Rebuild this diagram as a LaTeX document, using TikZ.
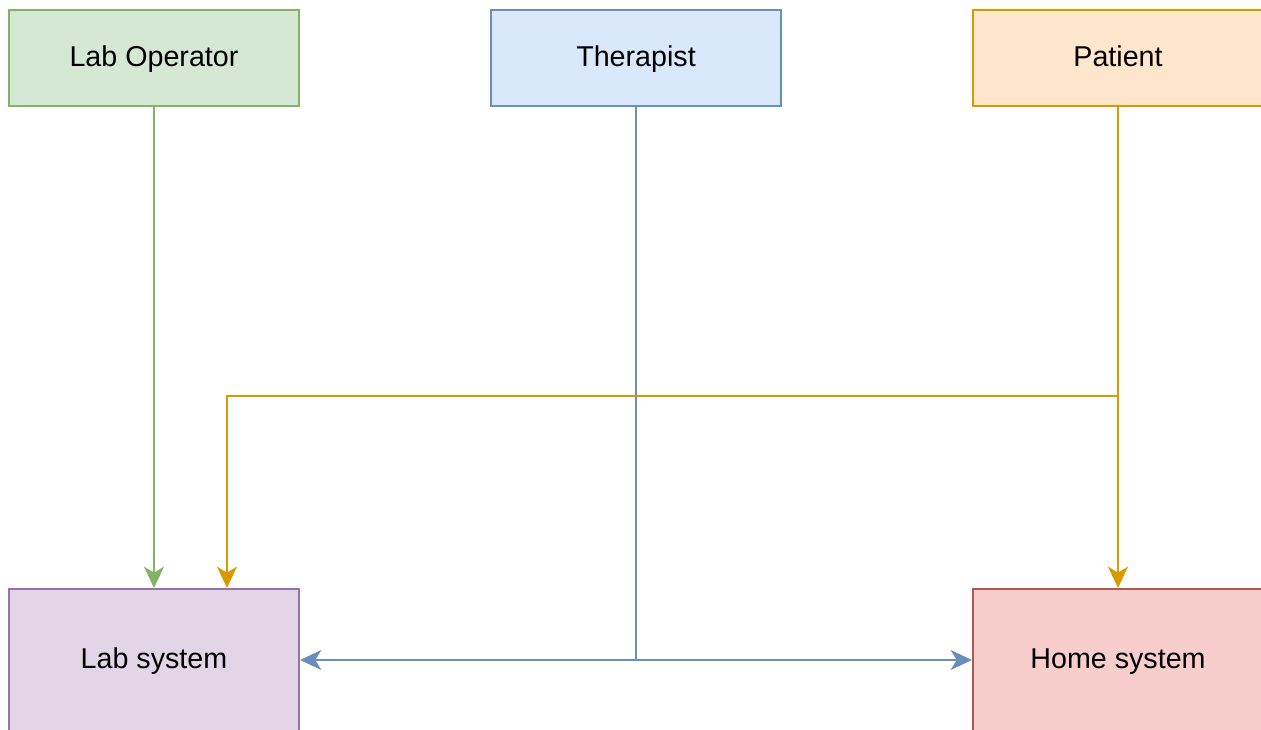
\documentclass[tikz,border=0pt]{standalone}
\usepackage{fontspec}
\setmainfont{Liberation Sans}
\usetikzlibrary{arrows.meta, positioning}

\definecolor{opfill}{HTML}{D5E8D4}
\definecolor{opline}{HTML}{82B366}
\definecolor{thfill}{HTML}{DAE8FC}
\definecolor{thline}{HTML}{6C8EBF}
\definecolor{pafill}{HTML}{FFE6CC}
\definecolor{paline}{HTML}{D79B00}
\definecolor{lsfill}{HTML}{E1D5E7}
\definecolor{lsline}{HTML}{9673A6}
\definecolor{hsfill}{HTML}{F8CECC}
\definecolor{hsline}{HTML}{B85450}

\tikzset{
  box/.style={draw, line width=1.5pt, minimum width=217.5pt, minimum height=72pt,
    inner sep=0pt, text height=15pt, text depth=1.5pt,
    font=\fontsize{21.5}{26}\selectfont},
  sysbox/.style={box, minimum height=106.5pt},
  link/.style={line width=1.5pt, -{Stealth[length=16pt, width=15pt, inset=4.5pt]}}
}

\begin{document}
\begin{tikzpicture}[x=0.75pt, y=-0.75pt]
			\useasboundingbox (0,0) rectangle (1261,730);

			\node[box, fill=opfill, draw=opline] (labop) at (154,58) {Lab Operator};
			\node[box, fill=thfill, draw=thline] (therapist) at (636,58) {Therapist};
			\node[box, fill=pafill, draw=paline] (patient) at (1118,58) {Patient};

			\node[sysbox, fill=lsfill, draw=lsline] (labsys) at (154,660) {Lab system};
			\node[sysbox, fill=hsfill, draw=hsline] (homesys) at (1118,660) {Home system};

			\coordinate (tjoin) at (636,660);
			\coordinate (pbend) at (1118,396);

			\draw[link, thline, -] (therapist) -- (tjoin);
			\draw[link, thline] (tjoin) -- (labsys);
			\draw[link, thline] (tjoin) -- (homesys);

			\draw[link, opline] (labop) -- (labsys);

			\draw[link, paline] (patient) -- (homesys);
			\draw[link, paline] (pbend) -| ([xshift=54.75pt]labsys.north);
		\end{tikzpicture}
\end{document}
